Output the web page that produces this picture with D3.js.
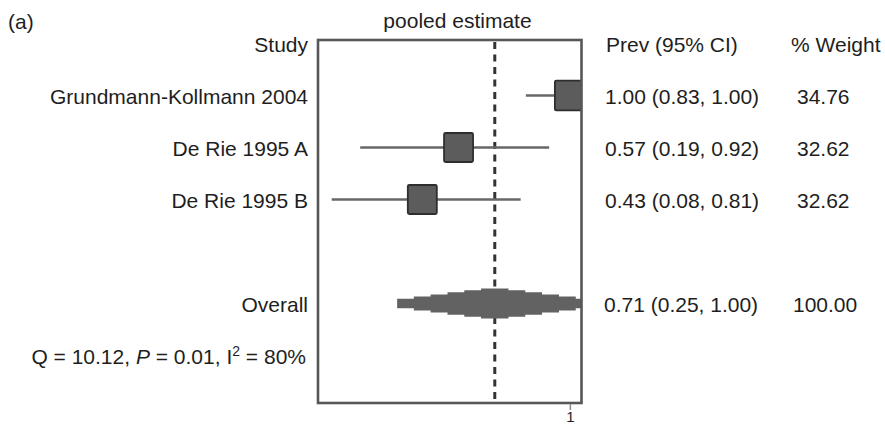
<!DOCTYPE html>
<html>
<head>
<meta charset="utf-8">
<script src="https://cdn.jsdelivr.net/npm/d3@7"></script>
<style>
  html, body { margin: 0; padding: 0; background: #fff; }
  svg text { font-family: "Liberation Sans", Arial, Helvetica, sans-serif; fill: #1e1e1e; }
</style>
</head>
<body>
<svg id="chart" width="885" height="425"></svg>
<script>
// Study-level prevalence estimates
const studies = ["Grundmann-Kollmann 2004", "De Rie 1995 A", "De Rie 1995 B"];
const prev    = [1.00, 0.57, 0.43];
const lower   = [0.83, 0.19, 0.08];
const upper   = [1.00, 0.92, 0.81];
const weights = [34.76, 32.62, 32.62];

// Pooled (overall) estimate
const pooledLabel  = "Overall";
const pooledPrev   = 0.71;
const pooledLower  = 0.25;
const pooledUpper  = 1.00;
const pooledWeight = 100.00;

// Heterogeneity statistics
const hetQ = "10.12", hetP = "0.01", hetI2 = "80%";

// Axis ticks
const xTicks = [1];
const xTickLabels = ["1"];

const svg = d3.select("#chart");

const box = { left: 318, right: 581.5, top: 40, bottom: 403 };
const x = d3.scaleLinear().domain([0.027, 1.045]).range([box.left, box.right]);

// Row layout: header row 0, studies rows 1..3, pooled row 5, stats row 6
const y = d3.scaleLinear().domain([0, 1]).range([43.5, 95.5]);
const rowStudy = studies.map((d, i) => i + 1);
const rowPooled = 5, rowStats = 6;

const fmt = d3.format(".2f");
const textSize = 21;

// Clip marks to the plot box
svg.append("defs").append("clipPath").attr("id", "plotclip")
  .append("rect")
  .attr("x", box.left).attr("y", box.top)
  .attr("width", box.right - box.left).attr("height", box.bottom - box.top);

const plot = svg.append("g").attr("clip-path", "url(#plotclip)");

// Pooled estimate reference line
plot.append("line")
  .attr("x1", x(pooledPrev)).attr("x2", x(pooledPrev))
  .attr("y1", box.top + 2).attr("y2", box.bottom)
  .attr("stroke", "#333").attr("stroke-width", 3)
  .attr("stroke-dasharray", "7,5.5");

// Confidence interval whiskers
plot.selectAll("line.ci").data(studies).join("line")
  .attr("class", "ci")
  .attr("x1", (d, i) => x(lower[i])).attr("x2", (d, i) => x(upper[i]))
  .attr("y1", (d, i) => y(rowStudy[i])).attr("y2", (d, i) => y(rowStudy[i]))
  .attr("stroke", "#676767").attr("stroke-width", 2.6);

// Weighted squares
const sizeK = 29 / Math.sqrt(32.62);
plot.selectAll("rect.sq").data(studies).join("rect")
  .attr("class", "sq")
  .attr("x", (d, i) => x(prev[i]) - sizeK * Math.sqrt(weights[i]) / 2)
  .attr("y", (d, i) => y(rowStudy[i]) - sizeK * Math.sqrt(weights[i]) / 2)
  .attr("width", (d, i) => sizeK * Math.sqrt(weights[i]))
  .attr("height", (d, i) => sizeK * Math.sqrt(weights[i]))
  .attr("rx", 1.5)
  .attr("fill", "#5c5c5c").attr("stroke", "#2e2e2e").attr("stroke-width", 1.8);

// Stepped diamond for the pooled estimate, symmetric about the pooled value
(function drawDiamond() {
  const cx = x(pooledPrev);
  const cy = y(rowPooled);
  const halfW = cx - x(pooledLower);
  const halfH = 15;
  const bounds = [0, 0.115, 0.256, 0.397, 0.539, 0.68, 0.82];
  const heights = bounds.slice(0, -1).map((b, j) => j === 0 ? halfH : halfH * (1 - b));
  const pts = [];
  // top edge, left to right
  for (let j = bounds.length - 2; j >= 0; j--) {
    pts.push([cx - bounds[j + 1] * halfW, cy - heights[j]]);
    pts.push([cx - bounds[j] * halfW, cy - heights[j]]);
  }
  for (let j = 0; j < bounds.length - 1; j++) {
    pts.push([cx + bounds[j] * halfW, cy - heights[j]]);
    pts.push([cx + bounds[j + 1] * halfW, cy - heights[j]]);
  }
  // bottom edge, right to left
  for (let j = bounds.length - 2; j >= 0; j--) {
    pts.push([cx + bounds[j + 1] * halfW, cy + heights[j]]);
    pts.push([cx + bounds[j] * halfW, cy + heights[j]]);
  }
  for (let j = 0; j < bounds.length - 1; j++) {
    pts.push([cx - bounds[j] * halfW, cy + heights[j]]);
    pts.push([cx - bounds[j + 1] * halfW, cy + heights[j]]);
  }
  plot.append("path")
    .attr("d", d3.line()(pts) + "Z")
    .attr("fill", "#626262");
})();

// Plot frame
svg.append("rect")
  .attr("x", box.left).attr("y", box.top)
  .attr("width", box.right - box.left).attr("height", box.bottom - box.top)
  .attr("fill", "none").attr("stroke", "#575757").attr("stroke-width", 2.6);

// Bottom axis
const axis = svg.append("g")
  .attr("transform", `translate(0,${box.bottom + 1})`)
  .call(d3.axisBottom(x).tickValues(xTicks).tickFormat((d, i) => xTickLabels[i]).tickSize(6).tickSizeOuter(0));
axis.select(".domain").remove();
axis.selectAll(".tick line").attr("stroke", "#888").attr("stroke-width", 1.5);
axis.selectAll(".tick text")
  .attr("font-size", 15).attr("dy", 0).attr("y", 18)
  .style("font-family", "'Liberation Sans', Arial, sans-serif").attr("fill", "#1e1e1e");

// Panel tag and titles
svg.append("text").attr("x", 8).attr("y", 28.5).attr("font-size", textSize).text("(a)");
svg.append("text").attr("x", 457.5).attr("y", 27.5).attr("font-size", textSize)
  .attr("text-anchor", "middle").attr("fill", "#333").text("pooled estimate");

// Column headers
const headerY = y(0) + 8;
svg.append("text").attr("x", 308).attr("y", headerY).attr("font-size", textSize)
  .attr("text-anchor", "end").text("Study");
svg.append("text").attr("x", 606).attr("y", headerY).attr("font-size", textSize).text("Prev (95% CI)");
svg.append("text").attr("x", 791).attr("y", headerY).attr("font-size", textSize).text("% Weight");

// Study rows
studies.forEach((s, i) => {
  const ty = y(rowStudy[i]) + 8;
  svg.append("text").attr("x", 308).attr("y", ty).attr("font-size", textSize)
    .attr("text-anchor", "end").text(s);
  svg.append("text").attr("x", 605).attr("y", ty).attr("font-size", textSize)
    .text(`${fmt(prev[i])} (${fmt(lower[i])}, ${fmt(upper[i])})`);
  svg.append("text").attr("x", 797).attr("y", ty).attr("font-size", textSize)
    .text(fmt(weights[i]));
});

// Pooled row
const py = y(rowPooled) + 8;
svg.append("text").attr("x", 308).attr("y", py).attr("font-size", textSize)
  .attr("text-anchor", "end").text(pooledLabel);
svg.append("text").attr("x", 604).attr("y", py).attr("font-size", textSize)
  .text(`${fmt(pooledPrev)} (${fmt(pooledLower)}, ${fmt(pooledUpper)})`);
svg.append("text").attr("x", 793).attr("y", py).attr("font-size", textSize)
  .text(fmt(pooledWeight));

// Heterogeneity line
const st = svg.append("text").attr("x", 306).attr("y", y(rowStats) + 8)
  .attr("font-size", textSize).attr("text-anchor", "end");
st.append("tspan").text(`Q = ${hetQ}, `);
st.append("tspan").attr("font-style", "italic").text("P");
st.append("tspan").text(` = ${hetP}, I`);
st.append("tspan").attr("font-size", 14).attr("dy", -8).text("2");
st.append("tspan").attr("dy", 8).text(` = ${hetI2}`);
</script>
</body>
</html>
